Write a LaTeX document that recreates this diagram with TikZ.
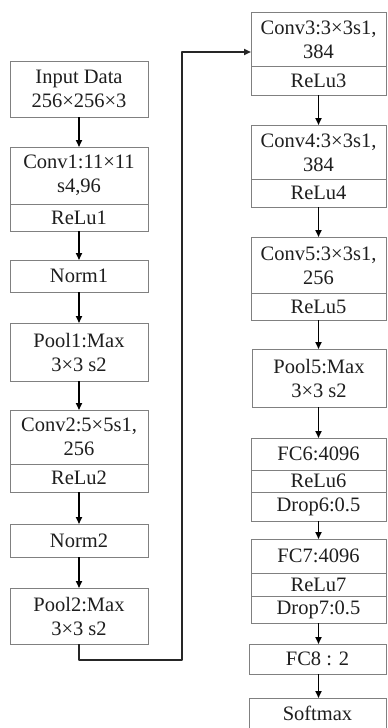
\documentclass[tikz,border=0pt]{standalone}
\usepackage{fontspec}
\setmainfont{Liberation Serif}
\usetikzlibrary{arrows.meta}
\definecolor{boxgray}{HTML}{808080}
\definecolor{ink}{HTML}{1E1E1E}

\begin{document}
\begin{tikzpicture}[x=1pt,y=-1pt,
  box/.style={draw=boxgray, line width=0.9pt, inner sep=0pt, outer sep=0pt, anchor=north west},
  lbl/.style={font=\fontsize{20.5}{24}\selectfont, text=ink, align=center, inner sep=0pt},
  divider/.style={draw=boxgray, line width=0.9pt},
  arr/.style={draw=black, line width=1.6pt, -{Triangle[length=7pt,width=6pt]}},
  conn/.style={draw=black!85, line width=2pt, line join=round, -{Triangle[length=7pt,width=6pt]}}]
\clip (0,0) rectangle (388,728);

% ---------------- left column ----------------
\node[box, lbl, minimum width=138pt, minimum height=56pt] (in) at (10,61) {Input Data\\256×256×3};

\node[box, minimum width=138pt, minimum height=84pt] (c1) at (10,147) {};
\node[lbl] (c1a) at (79,175.5) {Conv1:11×11\\s4,96};
\node[lbl] (c1b) at (79,217.5) {ReLu1};
\draw[divider] (c1.west |- 0,204) -- (c1.east |- 0,204);

\node[box, lbl, minimum width=138pt, minimum height=32pt] (n1) at (10,260) {Norm1};

\node[box, lbl, minimum width=138pt, minimum height=58pt] (p1) at (10,323) {Pool1:Max\\3×3 s2};

\node[box, minimum width=138pt, minimum height=82pt] (c2) at (10,410) {};
\node[lbl] (c2a) at (79,437) {Conv2:5×5s1,\\256};
\node[lbl] (c2b) at (79,478) {ReLu2};
\draw[divider] (c2.west |- 0,464) -- (c2.east |- 0,464);

\node[box, lbl, minimum width=138pt, minimum height=33pt] (n2) at (10,524) {Norm2};

\node[box, lbl, minimum width=138pt, minimum height=56pt] (p2) at (10,588) {Pool2:Max\\3×3 s2};

% ---------------- right column ----------------
\node[box, minimum width=135pt, minimum height=83pt] (c3) at (251,12) {};
\node[lbl] (c3a) at (318.5,40) {Conv3:3×3s1,\\384};
\node[lbl] (c3b) at (318.5,80.5) {ReLu3};
\draw[divider] (c3.west |- 0,66) -- (c3.east |- 0,66);

\node[box, minimum width=135pt, minimum height=82pt] (c4) at (251,125) {};
\node[lbl] (c4a) at (318.5,152.5) {Conv4:3×3s1,\\384};
\node[lbl] (c4b) at (318.5,193) {ReLu4};
\draw[divider] (c4.west |- 0,179) -- (c4.east |- 0,179);

\node[box, minimum width=135pt, minimum height=83pt] (c5) at (251,237) {};
\node[lbl] (c5a) at (318.5,265.5) {Conv5:3×3s1,\\256};
\node[lbl] (c5b) at (318.5,306.5) {ReLu5};
\draw[divider] (c5.west |- 0,293) -- (c5.east |- 0,293);

\node[box, lbl, minimum width=134pt, minimum height=58pt] (p5) at (252,349) {Pool5:Max\\3×3 s2};

\node[box, minimum width=135pt, minimum height=83pt] (f6) at (251,438) {};
\node[lbl] (f6a) at (318.5,454) {FC6:4096};
\node[lbl] (f6b) at (318.5,481) {ReLu6};
\node[lbl] (f6c) at (318.5,506.5) {Drop6:0.5};
\draw[divider] (f6.west |- 0,470) -- (f6.east |- 0,470);
\draw[divider] (f6.west |- 0,492) -- (f6.east |- 0,492);

\node[box, minimum width=135pt, minimum height=84pt] (f7) at (251,539) {};
\node[lbl] (f7a) at (318.5,556) {FC7:4096};
\node[lbl] (f7b) at (318.5,584.5) {ReLu7};
\node[lbl] (f7c) at (318.5,609.5) {Drop7:0.5};
\draw[divider] (f7.west |- 0,573) -- (f7.east |- 0,573);
\draw[divider] (f7.west |- 0,596) -- (f7.east |- 0,596);

\node[box, lbl, minimum width=137pt, minimum height=30pt] (f8) at (249,644) {FC8 : 2};

\node[box, minimum width=137pt, minimum height=50pt] (sm) at (249,698) {};
\node[lbl] (smT) at (317.5,713) {Softmax};

% ---------------- connectors (kept vertical) ----------------
\draw[arr] (in.south) -- (in.south |- c1.north);
\draw[arr] (c1.south) -- (c1.south |- n1.north);
\draw[arr] (n1.south) -- (n1.south |- p1.north);
\draw[arr] (p1.south) -- (p1.south |- c2.north);
\draw[arr] (c2.south) -- (c2.south |- n2.north);
\draw[arr] (n2.south) -- (n2.south |- p2.north);

\coordinate (turn) at (182,660);
\coordinate (entry) at (251,52);
\draw[conn] (p2.south) |- (turn) |- (entry);

\draw[arr] (c3.south) -- (c3.south |- c4.north);
\draw[arr] (c4.south) -- (c4.south |- c5.north);
\draw[arr] (c5.south) -- (c5.south |- p5.north);
\draw[arr] (p5.south -| c5.south) -- (c5.south |- f6.north);
\draw[arr] (f6.south) -- (f6.south |- f7.north);
\draw[arr] (f7.south) -- (f7.south |- f8.north);
\draw[arr] (f8.south -| f7.south) -- (f7.south |- sm.north);
\end{tikzpicture}
\end{document}
